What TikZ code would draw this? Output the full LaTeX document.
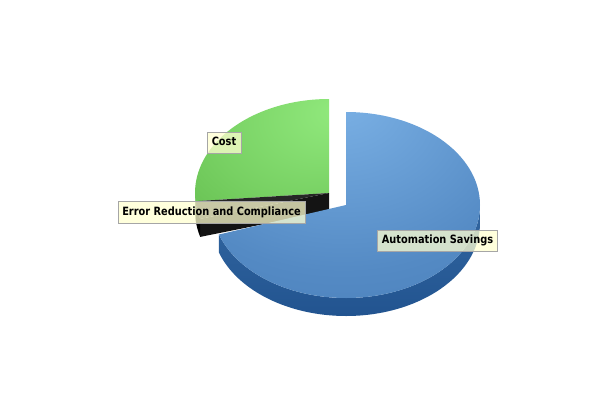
\documentclass[tikz,border=0pt]{standalone}
\usepackage{fontspec}
\setmainfont{DejaVu Sans}[FakeStretch=0.86]
\usepackage{tikz}
\usetikzlibrary{calc}
\definecolor{blueL}{RGB}{124,178,230}
\definecolor{blueM}{RGB}{84,138,196}
\definecolor{blueD}{RGB}{56,108,168}
\definecolor{blueS}{RGB}{50,102,160}
\definecolor{blueSD}{RGB}{34,84,144}
\definecolor{greenL}{RGB}{146,234,126}
\definecolor{greenD}{RGB}{80,170,58}
\definecolor{greenS}{RGB}{60,135,45}
\definecolor{tagfill}{RGB}{255,255,208}
\pgfdeclareradialshading{bluetop}{\pgfpoint{-2bp}{30bp}}{color(0bp)=(blueL); color(35bp)=(blueM); color(80bp)=(blueD)}
\pgfdeclareradialshading{greentop}{\pgfpoint{30bp}{20bp}}{color(0bp)=(greenL); color(35bp)=(greenL!60!greenD); color(80bp)=(greenD)}

\begin{document}
\begin{tikzpicture}[x=1bp, y=1bp,
  tag/.style={draw=black!35, fill=tagfill, fill opacity=0.75, text opacity=1,
    font=\fontsize{11.4bp}{13bp}\selectfont\bfseries, inner xsep=4.5bp,
    minimum height=21.5bp, text height=8.5bp, text depth=2.5bp}]
\useasboundingbox (0,0) rectangle (600,400);
\coordinate (g) at (329,207);
\coordinate (b) at (346,195);
% green slice (exploded)
\fill[greenS] ($(g)+(180:134 and 94)$) arc[start angle=180, end angle=185, x radius=134, y radius=94] -- ++(0,-18) arc[start angle=185, end angle=180, x radius=134, y radius=94] -- cycle;
\shade[shading=greentop] (g) -- ++(0,94) arc[start angle=90, end angle=185, x radius=134, y radius=94] -- cycle;
% thin black slice
\fill[black!92] (g) -- ($(g)+(196:134 and 94)$) -- ++(0,-18) -- ($(g)+(0,-18)$) -- cycle;
\fill[black] ($(g)+(185:134 and 94)$) arc[start angle=185, end angle=196, x radius=134, y radius=94] -- ++(0,-18) arc[start angle=196, end angle=185, x radius=134, y radius=94] -- cycle;
\fill[black!85] (g) -- ($(g)+(185:134 and 94)$) arc[start angle=185, end angle=196, x radius=134, y radius=94] -- cycle;
% blue slice
\shade[top color=blueS, bottom color=blueSD] ($(b)+(-161.5:134 and 93)$) arc[start angle=-161.5, end angle=0, x radius=134, y radius=93] -- ++(0,-18) arc[start angle=0, end angle=-161.5, x radius=134, y radius=93] -- cycle;
\shade[shading=bluetop] (b) -- ++(0,93) arc[start angle=90, end angle=-161.5, x radius=134, y radius=93] -- cycle;
% labels
\foreach \x/\y/\name/\lbl in {224/257.5/cost/Cost, 211.5/188/err/Error Reduction and Compliance, 437.5/159.5/auto/Automation Savings}{
\node[tag] (\name) at (\x,\y) {\lbl};
}
\end{tikzpicture}
\end{document}
